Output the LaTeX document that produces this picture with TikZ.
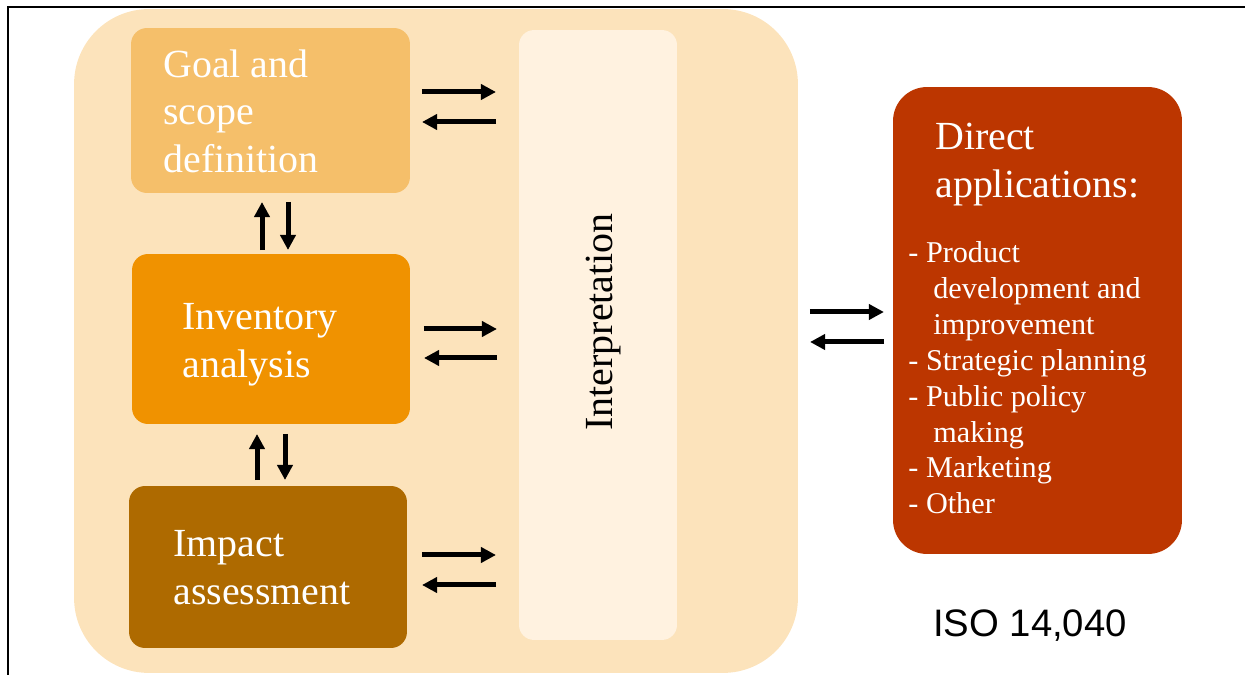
\documentclass[tikz,border=0pt]{standalone}
\usepackage{fontspec}
\setmainfont{Liberation Serif}
\newfontfamily\isofont{Liberation Sans}
\usetikzlibrary{arrows.meta,calc}

\definecolor{lcabg}{HTML}{FCE3BB}
\definecolor{goalcol}{HTML}{F5BF6A}
\definecolor{invcol}{HTML}{F09200}
\definecolor{impcol}{HTML}{AE6A00}
\definecolor{interpcol}{HTML}{FFF2E0}
\definecolor{appscol}{HTML}{BC3600}

\begin{document}
\begin{tikzpicture}[x=0.02cm, y=-0.02cm,
    box/.style={inner sep=0pt, outer sep=0pt, rounded corners=0.32cm},
    boxtext/.style={anchor=north west, inner sep=0pt, align=left, text=white,
      font=\fontsize{22.7}{27.2}\selectfont},
    arr/.style={line width=0.1cm, -{Triangle[length=0.3cm,width=0.3cm]}}]

             \useasboundingbox (0,0) rectangle (1245,675);
             \draw[line width=0.04cm] (8,675) -- (8,7) -- (1245,7);

             % LCA framework
             \node[box, fill=lcabg, rounded corners=1.5cm,
                   minimum width=14.48cm, minimum height=13.28cm] (lca) at (436,341) {};

             \node[box, fill=goalcol, minimum width=5.58cm, minimum height=3.3cm] (goal) at (270.5,110.5) {};
             \node[box, fill=invcol, minimum width=5.56cm, minimum height=3.4cm] (inventory) at (271,339) {};
             \node[box, fill=impcol, minimum width=5.56cm, minimum height=3.24cm] (impact) at (268,567) {};
             \node[box, fill=interpcol, rounded corners=0.3cm,
                   minimum width=3.16cm, minimum height=12.2cm] (interp) at (598,335) {};

             \node[boxtext] (goaltxt) at ($(goal.north west)+(32,21)$) {Goal and\\scope\\definition};
             \node[boxtext] (invtxt) at ($(inventory.north west)+(50,49)$) {Inventory\\analysis};
             \node[boxtext] (imptxt) at ($(impact.north west)+(44,44)$) {Impact\\assessment};
             \node[rotate=90, inner sep=0pt, font=\fontsize{22.7}{27.2}\selectfont]
                   (interptxt) at ($(interp.center)+(6,-13)$) {Interpretation};

             % applications
             \node[box, fill=appscol, rounded corners=0.68cm,
                   minimum width=5.78cm, minimum height=9.34cm] (apps) at (1037.5,320.5) {};
             \node[boxtext] (appstitle) at ($(apps.north west)+(42,36)$) {Direct\\applications:};
             \node[boxtext, font=\fontsize{17.2}{20.4}\selectfont] (appslist) at ($(apps.north west)+(15,154.5)$)
                   {- Product\\\hspace*{0.5cm}development and\\\hspace*{0.5cm}improvement\\- Strategic planning\\
                    - Public policy\\\hspace*{0.5cm}making\\- Marketing\\- Other};

             \node[inner sep=0pt, font=\isofont\fontsize{21.8}{25}\selectfont] (iso) at (1030,626) {ISO 14,040};

             % two-way arrows
             \draw[arr] ($(goal.east)+(12,-18.5)$) -- +(74,0);
             \draw[arr] ($(interp.west |- goal.east)+(-23,11.5)$) -- +(-74,0);
             \draw[arr] ($(inventory.east)+(14,-10)$) -- +(73,0);
             \draw[arr] ($(interp.west |- inventory.east)+(-22,19)$) -- +(-73,0);
             \draw[arr] ($(impact.east)+(15,-12)$) -- +(74,0);
             \draw[arr] ($(interp.west |- impact.east)+(-23,18)$) -- +(-74,0);

             \draw[arr] ($(inventory.north)+(-9,-4)$) -- +(0,-48);
             \draw[arr] ($(goal.south)+(17.5,9)$) -- +(0,48);
             \draw[arr] ($(impact.north)+(-11,-6)$) -- +(0,-46);
             \draw[arr] ($(inventory.south)+(14,10)$) -- +(0,46);

             \draw[arr] ($(lca.east)+(12,-29)$) -- +(74,0);
             \draw[arr] ($(apps.west |- lca.east)+(-9,1)$) -- +(-74,0);

\end{tikzpicture}
\end{document}
